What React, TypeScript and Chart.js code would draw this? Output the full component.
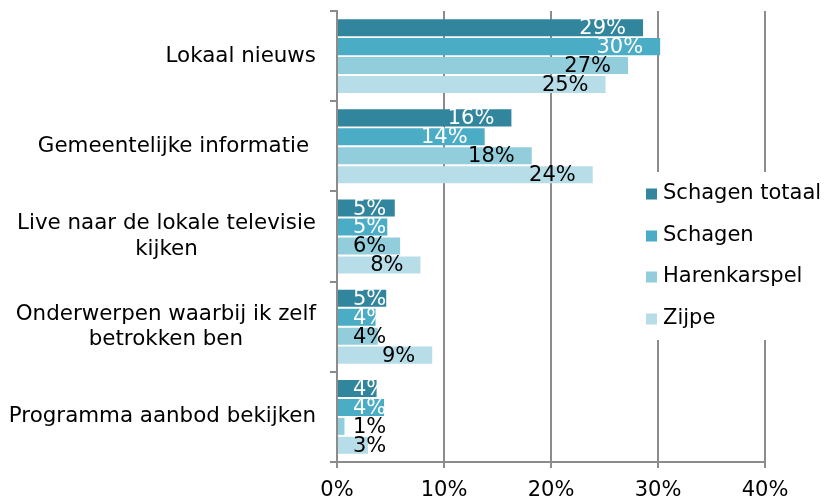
import React, { useEffect, useRef } from "react";
import { Chart, registerables } from "chart.js";

Chart.register(...registerables);

const categories: (string | string[])[] = [
  "Lokaal nieuws",
  "Gemeentelijke informatie ",
  ["Live naar de lokale televisie", "kijken"],
  ["Onderwerpen waarbij ik zelf", "betrokken ben"],
  "Programma aanbod bekijken",
];
const seriesNames = ["Schagen totaal", "Schagen", "Harenkarspel", "Zijpe"];
const schagenTotaal = [28.6, 16.3, 5.4, 4.6, 3.7];
const schagen = [30.2, 13.8, 4.7, 3.6, 4.4];
const harenkarspel = [27.2, 18.2, 5.9, 3.8, 0.7];
const zijpe = [25.1, 23.9, 7.8, 8.9, 2.9];
const xTicks = [0, 10, 20, 30, 40];

const colors = ["#31859C", "#4BACC6", "#92CDDC", "#B7DEE8"];
const labelColors = ["#ffffff", "#ffffff", "#000000", "#000000"];
const FONT = "21px 'DejaVu Sans'";
const YFONT = "21.4px 'DejaVu Sans'";
const GRID = "#8c8c8c";

const yLabelsPlugin = {
  id: "yLabels",
  afterDraw(chart: any) {
    const ctx = chart.ctx;
    const y = chart.scales.y;
    ctx.save();
    ctx.font = YFONT;
    ctx.fillStyle = "#000";
    ctx.textAlign = "center";
    ctx.textBaseline = "middle";
    const right = 316;
    const lh = 25.5;
    categories.forEach((c, i) => {
      const lines = Array.isArray(c) ? c : [c];
      const maxW = Math.max(...lines.map((l) => ctx.measureText(l).width));
      const cy = y.getPixelForTick(i);
      lines.forEach((l, j) => {
        const ly = cy + (j - (lines.length - 1) / 2) * lh;
        ctx.fillText(l, right - maxW / 2, ly);
      });
    });
    ctx.restore();
  },
};

const dataLabelsPlugin = {
  id: "dataLabels",
  afterDatasetsDraw(chart: any) {
    const ctx = chart.ctx;
    const left = chart.chartArea.left;
    ctx.save();
    ctx.font = FONT;
    ctx.textAlign = "left";
    ctx.textBaseline = "middle";
    chart.data.datasets.forEach((ds: any, di: number) => {
      const meta = chart.getDatasetMeta(di);
      meta.data.forEach((el: any, i: number) => {
        const txt = Math.round(ds.data[i]) + "%";
        const w = ctx.measureText(txt).width;
        const x = Math.max(left + 16, el.x - 17 - w);
        ctx.fillStyle = labelColors[di];
        ctx.fillText(txt, x, el.y + 1);
      });
    });
    ctx.restore();
  },
};

const legendPlugin = {
  id: "customLegend",
  afterDraw(chart: any) {
    const ctx = chart.ctx;
    ctx.save();
    ctx.fillStyle = "#ffffff";
    ctx.fillRect(640, 172, 184, 168);
    ctx.font = FONT;
    ctx.textAlign = "left";
    ctx.textBaseline = "middle";
    const ys = [194, 236, 277, 319];
    seriesNames.forEach((n, i) => {
      ctx.fillStyle = colors[i];
      ctx.fillRect(646, ys[i] - 5.5, 11, 11);
      ctx.fillStyle = "#000";
      ctx.fillText(n, 663, ys[i]);
    });
    ctx.restore();
  },
};

export default function App() {
  const ref = useRef<HTMLCanvasElement>(null);
  useEffect(() => {
    if (!ref.current) return;
    const chart = new Chart(ref.current, {
      type: "bar",
      data: {
        labels: categories.map((c) => (Array.isArray(c) ? c.join(" ") : c)),
        datasets: [schagenTotaal, schagen, harenkarspel, zijpe].map((d, i) => ({
          label: seriesNames[i],
          data: d,
          backgroundColor: colors[i],
          borderWidth: 0,
          categoryPercentage: 0.84,
          barPercentage: 0.9,
        })),
      },
      options: {
        indexAxis: "y",
        responsive: false,
        animation: false,
        layout: { padding: { top: 11, right: 59, left: 0, bottom: 0 } },
        plugins: { legend: { display: false }, tooltip: { enabled: false } },
        scales: {
          x: {
            min: 0,
            max: 40,
            afterBuildTicks: (s: any) => {
              s.ticks = xTicks.map((v) => ({ value: v }));
            },
            afterFit: (s: any) => {
              s.height = 40;
            },
            ticks: {
              font: { family: "'DejaVu Sans'", size: 21 },
              color: "#000",
              padding: 10,
              callback: (v: any) => v + "%",
            },
            grid: { color: GRID, lineWidth: 2, drawTicks: true, tickLength: 6, tickColor: GRID },
            border: { color: GRID, width: 2 },
          },
          y: {
            afterFit: (s: any) => {
              s.width = 337;
            },
            ticks: { display: false },
            grid: { drawOnChartArea: false, color: GRID, lineWidth: 2, drawTicks: true, tickLength: 7 },
            border: { color: GRID, width: 2 },
          },
        },
      },
      plugins: [dataLabelsPlugin, yLabelsPlugin, legendPlugin],
    });
    return () => chart.destroy();
  }, []);
  return (
    <div style={{ position: "absolute", left: 0, top: 0, width: 824, height: 502, overflow: "hidden", background: "#fff" }}>
      <canvas ref={ref} width={824} height={502} style={{ display: "block" }} />
    </div>
  );
}
